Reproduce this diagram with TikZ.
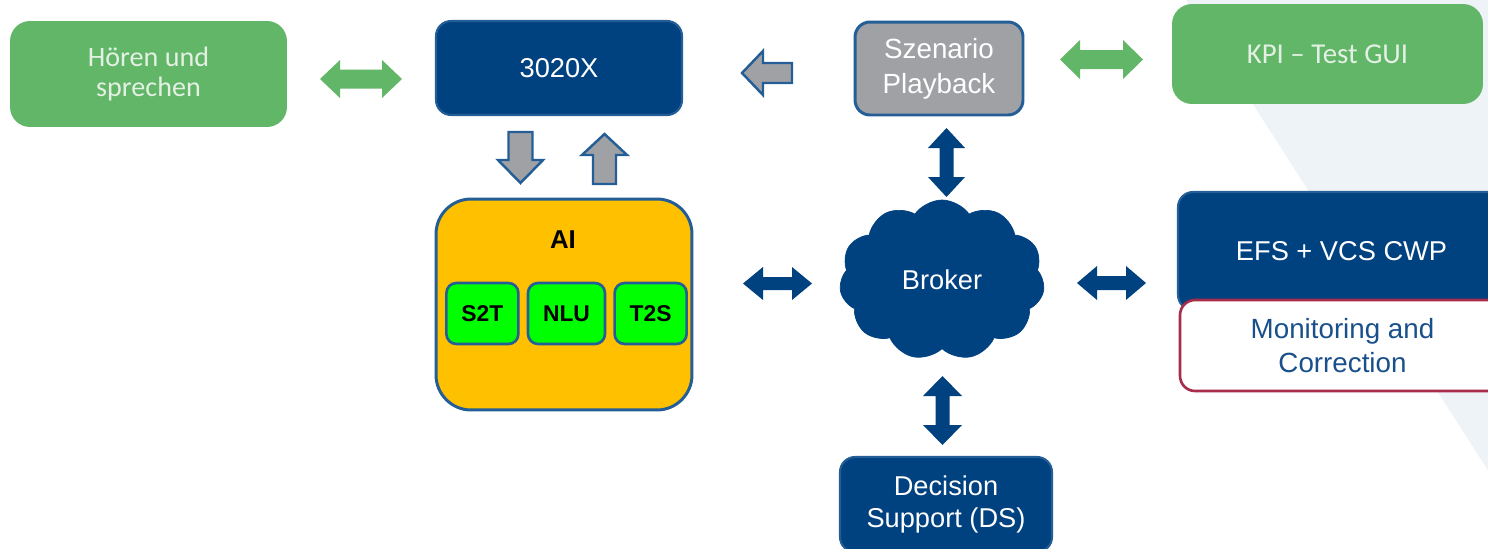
\documentclass[tikz,border=0pt]{standalone}
\usepackage{fontspec}
\setmainfont{Liberation Sans}
\newfontfamily\calfont{Carlito}
\usetikzlibrary{shapes.symbols,positioning}

\definecolor{boxgreen}{RGB}{98,182,104}
\definecolor{greentext}{RGB}{228,240,228}
\definecolor{navy}{RGB}{0,65,128}
\definecolor{navyline}{RGB}{36,94,150}
\definecolor{boxgray}{RGB}{160,161,165}
\definecolor{aiorange}{RGB}{255,192,0}
\definecolor{subgreen}{RGB}{0,255,0}
\definecolor{monred}{RGB}{168,45,75}
\definecolor{montext}{RGB}{25,80,140}
\definecolor{bgshade}{RGB}{238,243,247}

\tikzset{
    greenbox/.style={fill=boxgreen, rounded corners=0.4cm, inner sep=0pt,
        align=center, text=greentext, font=\calfont\fontsize{16}{17}\selectfont},
    navybox/.style={fill=navy, draw=navyline, line width=1.2pt,
        rounded corners=0.3cm, inner sep=0pt, align=center, text=white,
        font=\fontsize{15.5}{18.7}\selectfont},
    graybox/.style={fill=boxgray, draw=navyline, line width=1.7pt,
        rounded corners=0.3cm, inner sep=0pt, align=center, text=white,
        font=\fontsize{15.8}{19.8}\selectfont},
    monbox/.style={fill=white, draw=monred, line width=1.5pt,
        rounded corners=0.3cm, inner sep=0pt, align=center, text=montext,
        font=\fontsize{15.8}{19.3}\selectfont},
    aibox/.style={fill=aiorange, draw=navyline, line width=1.7pt,
        rounded corners=0.7cm},
    subbox/.style={fill=subgreen, draw=navyline, line width=1.5pt,
        rounded corners=0.2cm, inner sep=0pt,
        minimum width=1.44cm, minimum height=1.22cm,
        font=\bfseries\fontsize{13}{15}\selectfont},
    grayarr/.style={fill=boxgray, draw=navyline, line width=1.4pt},
    %% block arrows: half length / head length / head half width / shaft half width
    pics/dblarr/.style args={#1/#2/#3/#4}{code={
        \path[pic actions] (-#1,0) -- (-#1+#2,#3) -- (-#1+#2,#4) -- (#1-#2,#4)
            -- (#1-#2,#3) -- (#1,0) -- (#1-#2,-#3) -- (#1-#2,-#4)
            -- (-#1+#2,-#4) -- (-#1+#2,-#3) -- cycle;
    }},
    pics/sglarr/.style args={#1/#2/#3/#4}{code={
        \path[pic actions] (#1,0) -- (#1-#2,#3) -- (#1-#2,#4) -- (-#1,#4)
            -- (-#1,-#4) -- (#1-#2,-#4) -- (#1-#2,-#3) -- cycle;
    }},
}

\begin{document}
\begin{tikzpicture}[x=0.02cm, y=-0.02cm]
    \clip (0,0) rectangle (1488,548);

    %% Background shade
    \fill[bgshade] (1186,0) -- (1500,0) -- (1500,489) -- cycle;

    %% Top row
    \node[greenbox, minimum width=5.54cm, minimum height=2.12cm]
        (hoeren) at (148.5,74) {Hören und\\sprechen};
    \node[navybox, minimum width=4.92cm, minimum height=1.88cm]
        (x3020) at (559,68) {3020X};
    \node[graybox, minimum width=3.36cm, minimum height=1.86cm]
        (szenario) at (939,68.5) {Szenario\\Playback};
    \node[greenbox, minimum width=6.22cm, minimum height=2cm,
        font=\calfont\fontsize{16.4}{18}\selectfont]
        (kpi) at (1327.5,54) {KPI – Test GUI};

    %% AI block
    \node[aibox, minimum width=5.12cm, minimum height=4.22cm]
        (ai) at (564,304.5) {};
    \node[font=\bfseries\fontsize{14.7}{17}\selectfont]
        (ailbl) at (563,240) {AI};
    \node[subbox, minimum width=1.54cm] (nlu) at (566.5,313.5) {NLU};
    \node[subbox, left=0.14cm of nlu] (s2t) {S2T};
    \node[subbox, right=0.14cm of nlu] (t2s) {T2S};

    %% Broker
    \node[cloud, cloud puffs=11, cloud puff arc=110, aspect=1.3,
        fill=navy, draw=navy, text=white, inner sep=0pt,
        minimum width=4.1cm, minimum height=3.2cm,
        font=\fontsize{15.5}{18}\selectfont]
        (broker) at (942,280) {Broker};

    %% Right side
    \node[navybox, minimum width=6.54cm, minimum height=2.36cm]
        (efs) at (1341.5,251) {EFS + VCS CWP};
    \node[monbox, minimum width=6.5cm, minimum height=1.82cm]
        (mon) at (1342.5,345.5) {Monitoring and\\Correction};

    %% Bottom
    \node[navybox, minimum width=4.24cm, minimum height=1.9cm]
        (ds) at (946,504.5) {Decision\\Support (DS)};

    %% Block arrows
    \pic[fill=boxgreen] at (361,79) {dblarr={41/20/19/9.5}};
    \pic[fill=boxgreen] at (1101.5,59.5) {dblarr={41.5/20/19.5/9.5}};
    \pic[fill=navy] at (777.5,283.5) {dblarr={34.5/20/16.5/6.5}};
    \pic[fill=navy] at (1111.5,283) {dblarr={34.5/20/17/7}};
    \pic[fill=navy, rotate=90] at (946.5,162.5) {dblarr={34.5/20/18.5/7}};
    \pic[fill=navy, rotate=90] at (942.5,410.5) {dblarr={34.5/20/19.5/7}};
    \pic[grayarr, rotate=180] at (767,73) {sglarr={25/21/22/10}};
    \pic[grayarr, rotate=-90] at (520.5,157.5) {sglarr={25.5/23/22.5/12}};
    \pic[grayarr, rotate=90] at (604.5,159) {sglarr={25/21/22.5/11.5}};
\end{tikzpicture}
\end{document}
